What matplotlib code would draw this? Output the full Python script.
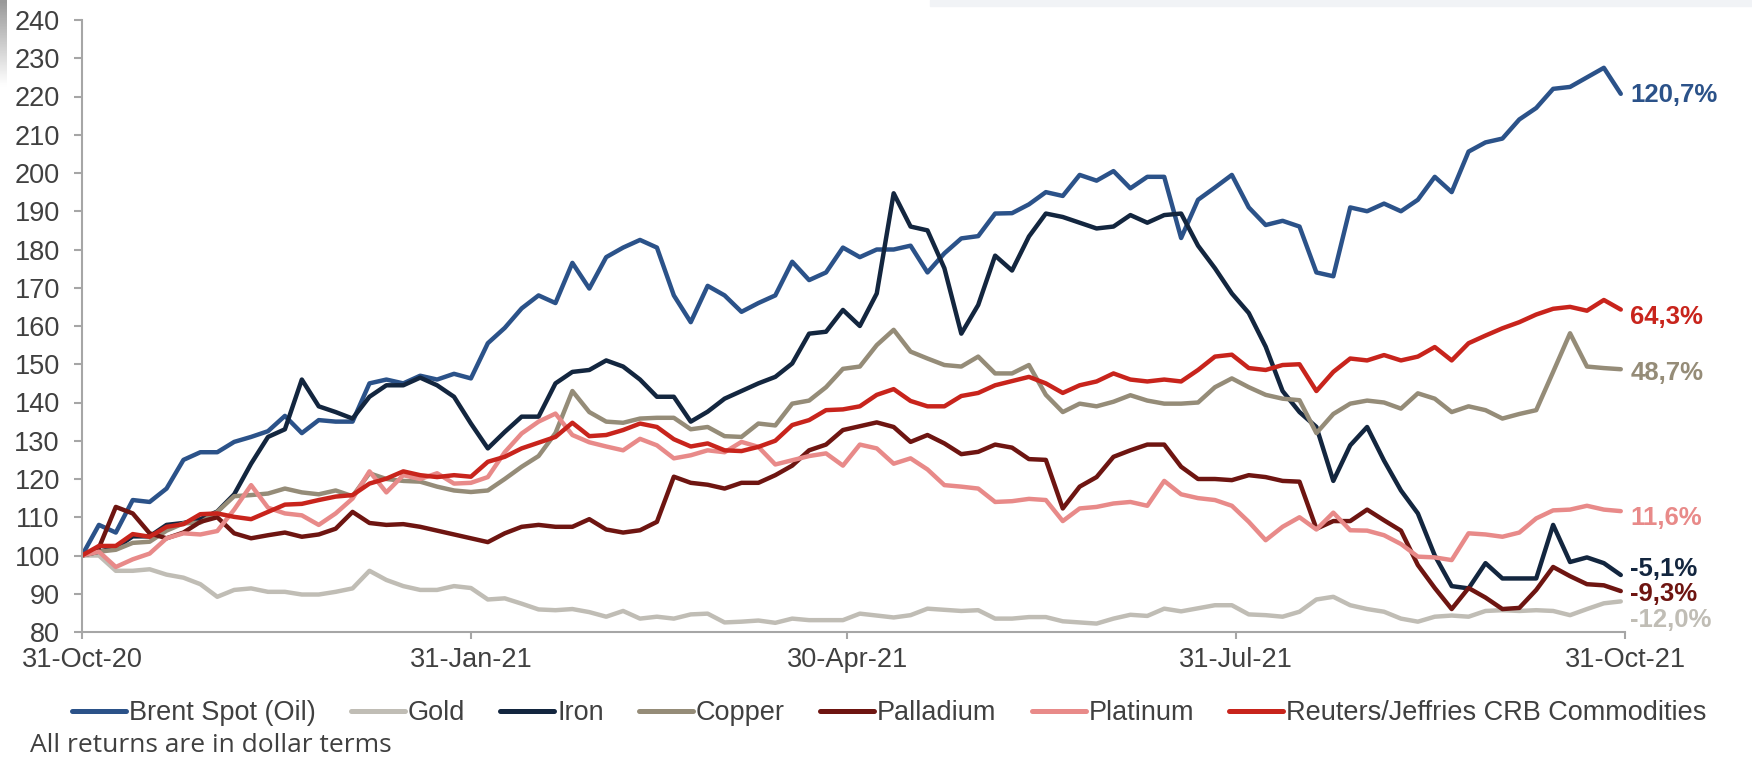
import numpy as np
import pandas as pd
import matplotlib
matplotlib.use("Agg")
import matplotlib.pyplot as plt
import matplotlib.dates as mdates

# Commodity prices rebased to 100 on 31-Oct-20, sampled every 4 days
start = pd.Timestamp("2020-10-31")
days = np.arange(0, 365, 4)
dates = start + pd.to_timedelta(days, unit="D")

brent = [100, 108, 106, 114.5, 114, 117.5, 125, 127, 127, 129.7,
         131, 132.5, 136.5, 132, 135.4, 135, 135, 145, 146, 145,
         147, 146, 147.5, 146.3, 155.5, 159.5, 164.6, 168, 166, 176.5,
         169.8, 178, 180.5, 182.5, 180.5, 168, 161, 170.5, 168, 163.7,
         166, 168, 176.8, 172, 174, 180.5, 178, 180, 180, 181,
         174, 179, 182.9, 183.5, 189.4, 189.5, 191.8, 195, 194, 199.5,
         198, 200.5, 196, 199, 199, 183, 193, 196.2, 199.5, 191,
         186.4, 187.5, 186, 174, 173, 191, 190, 192, 190, 193,
         199, 195, 205.6, 208, 209, 214, 217, 222, 222.5, 225,
         227.5, 220.7]

gold = [100, 100, 96, 96, 96.4, 95, 94.2, 92.5, 89.2, 91,
        91.4, 90.5, 90.5, 89.8, 89.8, 90.5, 91.4, 96, 93.6, 92,
        91, 91, 92, 91.5, 88.5, 88.8, 87.4, 85.9, 85.7, 86,
        85.2, 84, 85.5, 83.5, 84, 83.5, 84.6, 84.8, 82.5, 82.7,
        83, 82.4, 83.5, 83.1, 83.1, 83.1, 84.8, 84.3, 83.8, 84.4,
        86.1, 85.8, 85.5, 85.7, 83.5, 83.5, 83.9, 83.9, 82.8, 82.5,
        82.2, 83.5, 84.5, 84.2, 86.1, 85.4, 86.2, 87, 87, 84.6,
        84.4, 84, 85.3, 88.5, 89.2, 87, 86, 85.3, 83.5, 82.7,
        84, 84.3, 84, 85.5, 85.7, 85.5, 85.7, 85.5, 84.4, 86,
        87.5, 88]

iron = [100, 101, 102, 105, 105, 108, 108.5, 109.5, 111.5, 116,
        124, 131, 133, 146, 139, 137.5, 135.8, 141.5, 144.5, 144.5,
        146.5, 144.5, 141.5, 134.5, 128, 132.3, 136.3, 136.3, 145, 148,
        148.5, 151, 149.4, 146, 141.5, 141.5, 135, 137.6, 141, 143,
        145, 146.7, 150.2, 158, 158.5, 164.2, 160, 168.5, 194.7, 186,
        185, 175.1, 158, 165.5, 178.4, 174.5, 183.4, 189.4, 188.5, 187,
        185.5, 186, 189, 187, 189, 189.4, 181, 175.1, 168.5, 163.4,
        154.6, 143, 137.5, 133.6, 119.5, 128.8, 133.6, 124.8, 117, 111,
        100, 92, 91.4, 98, 94, 94, 94, 108, 98.3, 99.5,
        98, 94.9]

copper = [100, 101, 101.5, 103.3, 103.6, 106.5, 108.4, 108.6, 111.4, 115.5,
          115.8, 116.2, 117.5, 116.5, 116, 117, 115.5, 121.5, 120, 119.5,
          119.3, 118, 117, 116.6, 117, 120, 123.2, 126, 132, 143,
          137.5, 135, 134.7, 135.8, 136, 136, 133, 133.6, 131.2, 131,
          134.5, 134, 139.7, 140.5, 144, 148.8, 149.4, 155, 159, 153.3,
          151.5, 149.8, 149.4, 152, 147.6, 147.6, 149.8, 142, 137.5, 139.7,
          139, 140.2, 141.9, 140.5, 139.7, 139.7, 140, 144, 146.3, 144,
          142, 141, 140.6, 132, 137, 139.7, 140.5, 140, 138.4, 142.4,
          141, 137.5, 139, 138, 135.8, 137, 138, 148, 158.1, 149.4,
          149, 148.7]

palladium = [100, 102, 112.7, 111, 105.8, 104.5, 106, 108.8, 110, 105.8,
             104.5, 105.3, 106, 104.9, 105.5, 107, 111.4, 108.5, 108, 108.2,
             107.5, 106.5, 105.5, 104.5, 103.5, 105.8, 107.5, 108, 107.5, 107.5,
             109.5, 106.8, 106, 106.6, 108.8, 120.6, 119, 118.5, 117.5, 119,
             119, 121, 123.5, 127.5, 129, 132.8, 133.8, 134.8, 133.6, 129.7,
             131.5, 129.3, 126.5, 127.1, 129, 128.2, 125.2, 125, 112.3, 118,
             120.5, 125.8, 127.5, 129, 129, 123.2, 120, 120, 119.7, 121,
             120.5, 119.5, 119.3, 107, 109, 109, 112, 109.2, 106.5, 97.5,
             91.5, 86, 91.5, 89, 86, 86.3, 91, 97, 94.6, 92.5,
             92.2, 90.7]

platinum = [100, 101, 97, 99, 100.5, 104.5, 105.8, 105.5, 106.4, 112,
            118.4, 112.5, 111, 110.5, 108, 111, 114.9, 122, 116.5, 121,
            120, 121.5, 118.8, 119, 120.5, 127, 131.9, 135, 137.1, 131.5,
            129.6, 128.5, 127.5, 130.5, 128.8, 125.4, 126.2, 127.5, 127, 129.7,
            128.4, 123.8, 124.9, 126, 126.7, 123.5, 129, 128, 124, 125.4,
            122.5, 118.4, 118, 117.5, 114, 114.2, 114.8, 114.5, 109, 112.3,
            112.7, 113.6, 114, 113, 119.5, 116, 115, 114.5, 113, 108.8,
            104, 107.5, 110, 106.8, 111.2, 106.6, 106.5, 105.3, 103, 99.7,
            99.5, 98.8, 105.8, 105.5, 104.9, 106, 109.7, 111.8, 112, 113,
            112, 111.6]

crb = [100, 102.5, 102.5, 105.6, 104.9, 107.5, 108.2, 110.8, 111, 110.1,
       109.5, 111.4, 113.3, 113.5, 114.5, 115.4, 115.8, 118.8, 120.1, 122,
       121, 120.5, 121, 120.6, 124.5, 125.8, 128, 129.5, 131, 134.7,
       131.2, 131.5, 132.8, 134.5, 133.6, 130.4, 128.5, 129.3, 127.5, 127.3,
       128.4, 130, 134.1, 135.4, 138, 138.2, 139, 142, 143.5, 140.4,
       139, 139, 141.7, 142.5, 144.5, 145.6, 146.7, 145, 142.5, 144.5,
       145.5, 147.6, 146, 145.5, 146, 145.5, 148.5, 152, 152.5, 149,
       148.5, 149.8, 150, 143, 148, 151.5, 151, 152.4, 151, 152,
       154.5, 151, 155.5, 157.5, 159.4, 161, 163, 164.5, 165, 164,
       166.8, 164.3]

names = ["Brent Spot (Oil)", "Gold", "Iron", "Copper", "Palladium",
         "Platinum", "Reuters/Jeffries CRB Commodities"]
values = [brent, gold, iron, copper, palladium, platinum, crb]
colors = ["#2B5289", "#C0BDB5", "#13263F", "#958C78", "#6E1511",
          "#E88A89", "#C8241C"]
# vertical placement of the end-of-line return labels (data units)
label_y = [220.4, 83.2, 96.6, 147.7, 90.0, 109.8, 162.3]

tick_dates = pd.to_datetime(["2020-10-31", "2021-01-31", "2021-04-30",
                             "2021-07-31", "2021-10-31"])

W, H = 1752, 757
FS = 19.5
fig = plt.figure(figsize=(W / 100, H / 100), dpi=100)
fig.patch.set_facecolor("white")

# grey strip down the left edge and faint band along the top
strip = fig.add_axes([0, 0, 7 / W, 1])
grad = np.linspace(1, 0, 256).reshape(-1, 1)
grad = np.clip(grad * 9, 0, 1)
strip.imshow(np.dstack([0.6 + 0.4 * grad] * 3), aspect="auto",
             extent=[0, 1, 0, 1], origin="lower")
strip.axis("off")
fig.patches.append(plt.Rectangle((930 / W, 1 - 6 / H), 1 - 930 / W, 6 / H,
                                 transform=fig.transFigure,
                                 color="#F1F3F6", zorder=0))

ax = fig.add_axes([82 / W, 1 - 632 / H, (1625 - 82) / W, (632 - 20) / H])

for name, vals, col in zip(names, values, colors):
    ax.plot(dates, vals, color=col, lw=3.2, label=name,
            solid_joinstyle="round", solid_capstyle="round")

# total return labels at the end of each line
for vals, col, ly in zip(values, colors, label_y):
    txt = f"{vals[-1] - 100:.1f}%".replace(".", ",")
    ax.annotate(txt, xy=(start + pd.Timedelta(days=366.3), ly),
                xycoords="data", ha="left", va="center", color=col,
                fontsize=18.5, fontweight="bold", family="Liberation Sans",
                annotation_clip=False)

ax.set_xlim(start, pd.Timestamp("2021-10-31"))
ax.set_ylim(80, 240)
ax.set_yticks(np.arange(80, 241, 10))
ax.set_xticks(tick_dates)
ax.xaxis.set_major_formatter(mdates.DateFormatter("%d-%b-%y"))

for s in ["top", "right"]:
    ax.spines[s].set_visible(False)
for s in ["left", "bottom"]:
    ax.spines[s].set_color("#A6A6A6")
    ax.spines[s].set_linewidth(1.5)

ax.tick_params(axis="y", direction="out", length=6, width=1.5,
               color="#A6A6A6", pad=10, labelsize=FS, labelcolor="#404040")
ax.tick_params(axis="x", direction="out", length=5, width=1.5,
               color="#A6A6A6", pad=6, labelsize=FS, labelcolor="#404040")
for lab in ax.get_xticklabels() + ax.get_yticklabels():
    lab.set_family("Liberation Sans")

leg = fig.legend(loc="center left", bbox_to_anchor=(72 / W, 1 - 713 / H),
                 ncol=7, frameon=False, borderpad=0, borderaxespad=0,
                 handlelength=2.0, handletextpad=0.1, columnspacing=1.3,
                 prop={"family": "Liberation Sans", "size": FS})
for line in leg.get_lines():
    line.set_linewidth(3.6)
    line.set_solid_capstyle("round")
for t in leg.get_texts():
    t.set_color("#404040")

fig.text(30 / W, 1 - 752 / H, "All returns are in dollar terms",
         family="Open Sans", fontsize=19, color="#404040",
         ha="left", va="baseline")

fig.savefig("out.png", dpi=100)
